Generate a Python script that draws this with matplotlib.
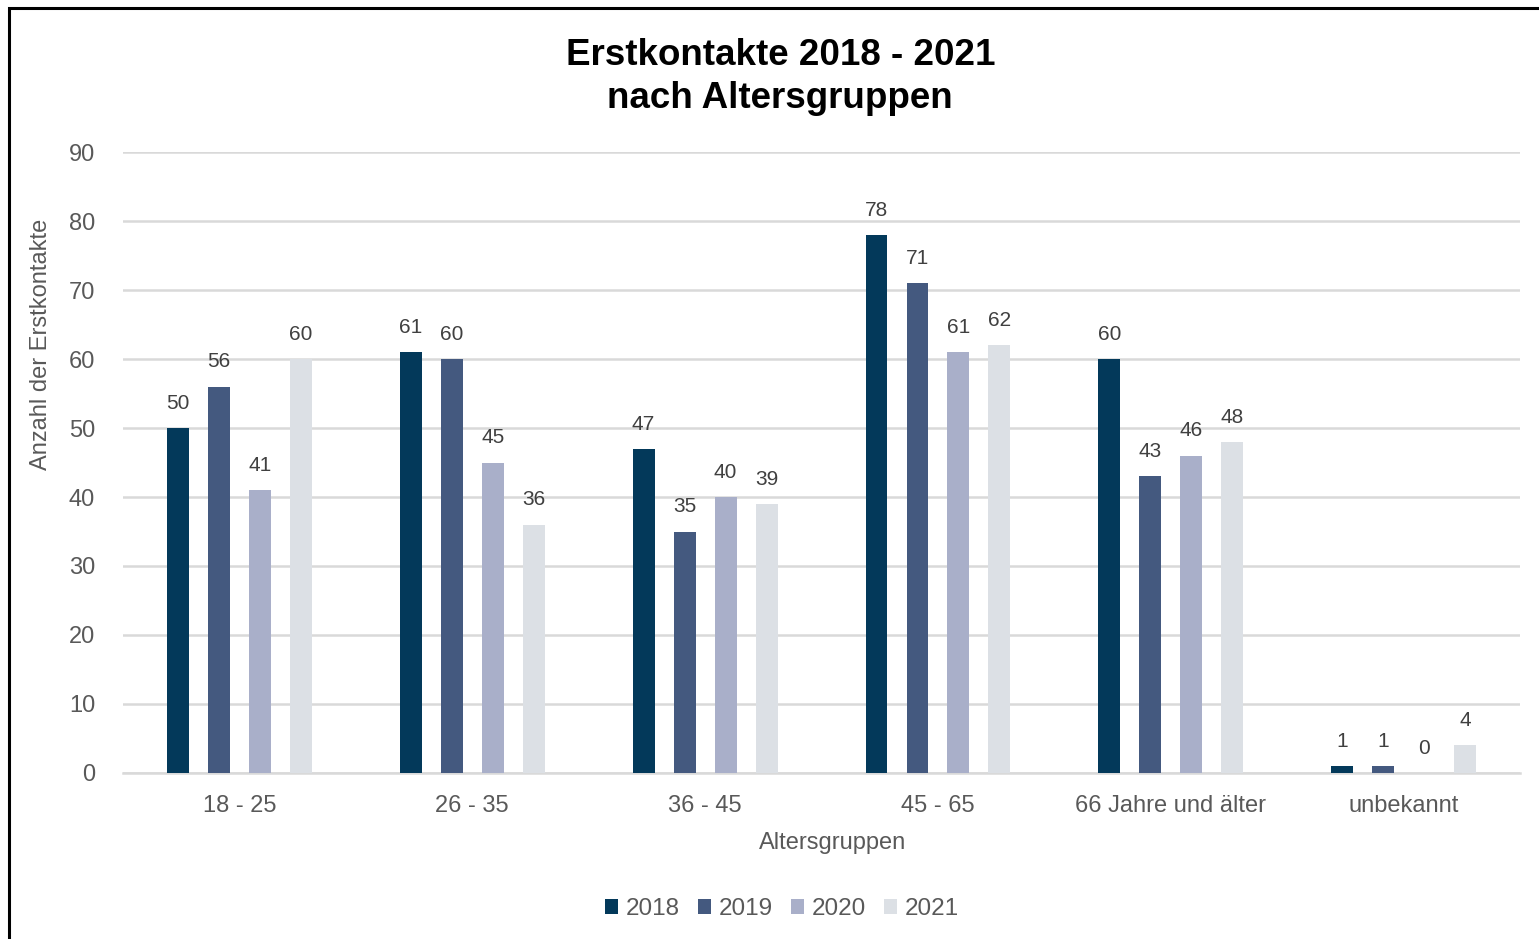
import numpy as np
import matplotlib.pyplot as plt
from matplotlib.patches import Rectangle

plt.rcParams['font.family'] = ['Liberation Sans', 'DejaVu Sans']

# Data
categories = ['18 - 25', '26 - 35', '36 - 45', '45 - 65', '66 Jahre und älter', 'unbekannt']
years = ['2018', '2019', '2020', '2021']
v2018 = [50, 61, 47, 78, 60, 1]
v2019 = [56, 60, 35, 71, 43, 1]
v2020 = [41, 45, 40, 61, 46, 0]
v2021 = [60, 36, 39, 62, 48, 4]
colors = ['#03395A', '#44597F', '#A9AFC9', '#DCE0E5']

series = [v2018, v2019, v2020, v2021]

fig = plt.figure(figsize=(15.39, 9.39), dpi=100)
ax = fig.add_axes([0.0799, 0.1768, 0.9078, 0.6613])

x = np.arange(len(categories))
width = 0.094
step = 0.176
for i, (vals, year, col) in enumerate(zip(series, years, colors)):
    pos = x + (i - 1.5) * step
    bars = ax.bar(pos, vals, width, color=col, label=year, zorder=3)
    for b, v in zip(bars, vals):
        ax.text(b.get_x() + b.get_width() / 2, v + 2.2, str(v),
                ha='center', va='bottom', fontsize=15, color='#404040')

ax.set_xlim(-0.5, len(categories) - 0.5)
ax.set_ylim(0, 90)
ax.set_yticks(range(0, 91, 10))
ax.set_xticks(x)
ax.set_xticklabels(categories)
ax.tick_params(axis='both', length=0, labelsize=17, colors='#595959')
ax.tick_params(axis='y', pad=20)
ax.tick_params(axis='x', pad=16)
ax.grid(axis='y', color='#D9D9D9', linewidth=1.8, zorder=0)
for s in ['top', 'right', 'left']:
    ax.spines[s].set_visible(False)
ax.spines['bottom'].set_color('#D9D9D9')
ax.spines['bottom'].set_linewidth(1.8)

ax.set_xlabel('Altersgruppen', fontsize=17, color='#595959')
ax.xaxis.set_label_coords(0.508, -0.095)
ax.set_ylabel('Anzahl der Erstkontakte', fontsize=17, color='#595959')
ax.yaxis.set_label_coords(-0.051, 0.69)

fig.text(0.507, 0.9414, 'Erstkontakte 2018 - 2021', ha='center', va='center',
         fontsize=26.5, fontweight='bold', color='black')
fig.text(0.507, 0.8946, 'nach Altersgruppen', ha='center', va='center',
         fontsize=26.5, fontweight='bold', color='black')

leg = fig.legend(loc='center', bbox_to_anchor=(0.508, 0.032), ncol=4, frameon=False,
                 fontsize=17.5, handlelength=0.55, handleheight=0.55, handletextpad=0.3,
                 columnspacing=0.75)
for t in leg.get_texts():
    t.set_color('#595959')

# outer frame
fig.patches.append(Rectangle((9 / 1539, -0.1), 1.2, 1.1 - 8 / 939, transform=fig.transFigure,
                             fill=False, edgecolor='black', linewidth=2.2, zorder=10))

fig.savefig('out.png', dpi=100)
